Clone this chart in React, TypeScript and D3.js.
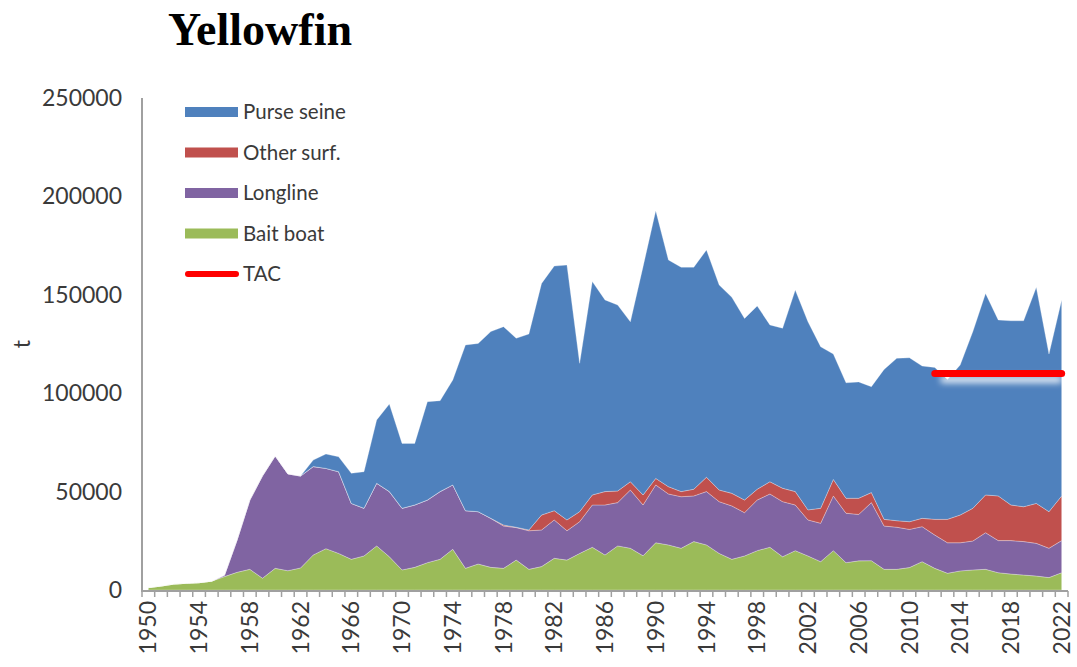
import { useEffect, useRef } from "react";
import * as d3 from "d3";

const years = d3.range(1950, 2023);

// catches in tonnes
const baitBoat = [
  1200, 2000, 3000, 3400, 3700, 4500, 6800, 9000, 10500, 6000, 11000, 9800, 11200, 17800,
  21000, 18600, 15600, 17300, 22400, 16900, 10200, 11500, 13900, 15600, 20700, 11000, 13200,
  11500, 11000, 15200, 10500, 11900, 16100, 15200, 18600, 21700, 17800, 22400, 21200, 17400,
  24000, 22900, 21200, 24600, 22900, 18600, 15600, 17300, 20000, 21700, 16900, 20000, 17300,
  14400, 20000, 13900, 14800, 14900, 10500, 10500, 11400, 14400, 11000, 8500, 9700, 10200,
  10500, 8800, 8100, 7600, 7100, 6300, 8800,
];

const longline = [
  0, 0, 0, 0, 0, 0, 700, 16500, 35200, 52000, 57100, 49200, 46700, 44900, 40800, 41500,
  28400, 24200, 31800, 33100, 31300, 31700, 31800, 34400, 32700, 29300, 26600, 24900, 21500,
  16500, 19600, 18600, 19500, 14900, 16100, 21500, 25400, 22000, 29600, 25800, 29400, 25900,
  26200, 23200, 27100, 26300, 27100, 22000, 25700, 27100, 28000, 23200, 18300, 19500, 27800,
  25100, 23600, 29500, 22000, 21400, 19400, 17800, 16900, 15500, 14300, 14700, 18600, 16300,
  17000, 17000, 16600, 14900, 16300,
];

const otherSurf = [
  0, 0, 0, 0, 0, 0, 0, 0, 0, 0, 0, 0, 0, 0, 0, 0, 0, 0, 0, 0, 0, 0, 0, 0, 0, 0, 0, 0,
  500, 200, 400, 7600, 4700, 5500, 5100, 5100, 6800, 5900, 4200, 5100, 3300, 3700, 2600,
  3400, 7300, 5900, 6400, 6400, 5500, 6200, 6800, 6800, 5100, 7600, 8400, 7600, 8200, 5100,
  3400, 3300, 3900, 4200, 8000, 11900, 14100, 16600, 19200, 22700, 18100, 17700, 20300,
  18600, 22700,
];

const purseSeine = [
  0, 0, 0, 0, 0, 0, 0, 0, 0, 0, 0, 0, 0, 3300, 7300, 7600, 15300, 18600, 32200, 44500,
  33000, 31300, 50000, 46200, 53300, 84200, 85500, 94900, 100800, 96000, 99600, 117700,
  124300, 129500, 75400, 108400, 97400, 94500, 81300, 116000, 136000, 115200, 114000,
  112800, 115500, 104200, 99600, 92300, 93100, 79700, 81300, 102400, 95600, 82100, 63700,
  58700, 59100, 53800, 76200, 82500, 83300, 77400, 77200, 71100, 76200, 89800, 102400,
  89400, 93600, 94500, 109800, 80100, 99600,
];

const tacYears = [2012, 2022];
const tacValue = 110000;

const yTicks = [0, 50000, 100000, 150000, 200000, 250000];
const xLabelYears = years.filter((y) => (y - 1950) % 4 === 0);

const seriesKeys = ["baitBoat", "longline", "otherSurf", "purseSeine"];
const legendItems = [
  { label: "Purse seine", color: "#4F81BD" },
  { label: "Other surf.", color: "#C0504D" },
  { label: "Longline", color: "#8064A2" },
  { label: "Bait boat", color: "#9BBB59" },
];
const colors: Record<string, string> = {
  baitBoat: "#9BBB59",
  longline: "#8064A2",
  otherSurf: "#C0504D",
  purseSeine: "#4F81BD",
};

export default function App() {
  const svgRef = useRef<SVGSVGElement | null>(null);

  useEffect(() => {
    if (!svgRef.current) return;
    const svg = d3.select(svgRef.current);
    svg.selectAll("*").remove();

    const width = 1077;
    const height = 667;
    const font = "Lato, 'Open Sans', sans-serif";
    const ink = "#3a3a3a";

    const x = d3
      .scaleBand<number>()
      .domain(years)
      .range([142, 1068])
      .paddingInner(0)
      .paddingOuter(0);
    const xc = (yr: number) => (x(yr) ?? 0) + x.bandwidth() / 2;
    const y = d3.scaleLinear().domain([0, 250000]).range([590, 98]);

    const rows = years.map((yr, i) => ({
      year: yr,
      baitBoat: baitBoat[i],
      longline: longline[i],
      otherSurf: otherSurf[i],
      purseSeine: purseSeine[i],
    }));

    const stacked = d3.stack<any>().keys(seriesKeys)(rows);

    const area = d3
      .area<any>()
      .x((d) => xc(d.data.year))
      .y0((d) => y(d[0]))
      .y1((d) => y(d[1]));

    svg.attr("width", width).attr("height", height).attr("viewBox", `0 0 ${width} ${height}`);

    // soft white glow under the TAC line (horizontal line has no bbox height, so user space)
    const defs = svg.append("defs");
    defs
      .append("filter")
      .attr("id", "tacGlow")
      .attr("filterUnits", "userSpaceOnUse")
      .attr("x", 880)
      .attr("y", 330)
      .attr("width", 220)
      .attr("height", 90)
      .append("feGaussianBlur")
      .attr("stdDeviation", 3);

    svg
      .append("rect")
      .attr("width", width)
      .attr("height", height)
      .attr("fill", "#ffffff");

    // title
    svg
      .append("text")
      .attr("x", 168)
      .attr("y", 45)
      .attr("font-family", "'Liberation Serif', 'Times New Roman', serif")
      .attr("font-weight", "bold")
      .attr("font-size", 46)
      .attr("fill", "#000")
      .text("Yellowfin");

    // stacked areas
    svg
      .append("g")
      .selectAll("path")
      .data(stacked)
      .join("path")
      .attr("d", area)
      .attr("fill", (d) => colors[d.key])
      .attr("stroke", "rgba(255,255,255,0.35)")
      .attr("stroke-width", 0.8);

    // TAC
    const tacY = y(tacValue);
    svg
      .append("line")
      .attr("x1", xc(tacYears[0]) + 6)
      .attr("x2", xc(tacYears[1]))
      .attr("y1", tacY + 6)
      .attr("y2", tacY + 6)
      .attr("stroke", "#ffffff")
      .attr("stroke-opacity", 0.85)
      .attr("stroke-width", 7)
      .attr("filter", "url(#tacGlow)");
    svg
      .append("line")
      .attr("x1", xc(tacYears[0]))
      .attr("x2", xc(tacYears[1]))
      .attr("y1", tacY)
      .attr("y2", tacY)
      .attr("stroke", "#FF0000")
      .attr("stroke-width", 7)
      .attr("stroke-linecap", "round");

    // axes
    const axisColor = "#a0a0a0";
    svg
      .append("line")
      .attr("x1", 142)
      .attr("x2", 142)
      .attr("y1", 98)
      .attr("y2", 591)
      .attr("stroke", axisColor)
      .attr("stroke-width", 2);
    svg
      .append("line")
      .attr("x1", 141)
      .attr("x2", 1068)
      .attr("y1", 591)
      .attr("y2", 591)
      .attr("stroke", axisColor)
      .attr("stroke-width", 2);

    const tickEdges = years.map((yr) => x(yr) ?? 0).concat([1068]);
    svg
      .append("g")
      .selectAll("line")
      .data(tickEdges)
      .join("line")
      .attr("x1", (d) => d)
      .attr("x2", (d) => d)
      .attr("y1", 591)
      .attr("y2", 597)
      .attr("stroke", axisColor)
      .attr("stroke-width", 1.5);

    svg
      .append("g")
      .selectAll("text")
      .data(yTicks)
      .join("text")
      .attr("x", 122)
      .attr("y", (d) => y(d))
      .attr("dy", "0.35em")
      .attr("text-anchor", "end")
      .attr("font-family", font)
      .attr("font-size", 23)
      .attr("fill", ink)
      .text((d) => String(d));

    svg
      .append("g")
      .selectAll("text")
      .data(xLabelYears)
      .join("text")
      .attr("transform", (d) => `translate(${xc(d)},601) rotate(-90)`)
      .attr("dy", "0.35em")
      .attr("text-anchor", "end")
      .attr("font-family", font)
      .attr("font-size", 23)
      .attr("fill", ink)
      .text((d) => String(d));

    svg
      .append("text")
      .attr("transform", "translate(22,344) rotate(-90)")
      .attr("dy", "0.35em")
      .attr("text-anchor", "middle")
      .attr("font-family", font)
      .attr("font-size", 23)
      .attr("fill", ink)
      .text("t");

    // legend
    const legend = svg.append("g").attr("transform", "translate(185,112)");
    const rowGap = 40.5;
    legendItems.forEach((item, i) => {
      legend
        .append("rect")
        .attr("x", 0)
        .attr("y", i * rowGap - 5)
        .attr("width", 53)
        .attr("height", 10)
        .attr("fill", item.color);
      legend
        .append("text")
        .attr("x", 58)
        .attr("y", i * rowGap)
        .attr("dy", "0.35em")
        .attr("font-family", font)
        .attr("font-size", 20.5)
        .attr("fill", ink)
        .text(item.label);
    });
    legend
      .append("line")
      .attr("x1", 3)
      .attr("x2", 51)
      .attr("y1", 4 * rowGap)
      .attr("y2", 4 * rowGap)
      .attr("stroke", "#FF0000")
      .attr("stroke-width", 6)
      .attr("stroke-linecap", "round");
    legend
      .append("text")
      .attr("x", 58)
      .attr("y", 4 * rowGap)
      .attr("dy", "0.35em")
      .attr("font-family", font)
      .attr("font-size", 20.5)
      .attr("fill", ink)
      .text("TAC");
  }, []);

  return (
    <svg
      ref={svgRef}
      style={{ position: "absolute", left: 0, top: 0, display: "block" }}
      aria-label="Yellowfin catches by gear"
    />
  );
}
